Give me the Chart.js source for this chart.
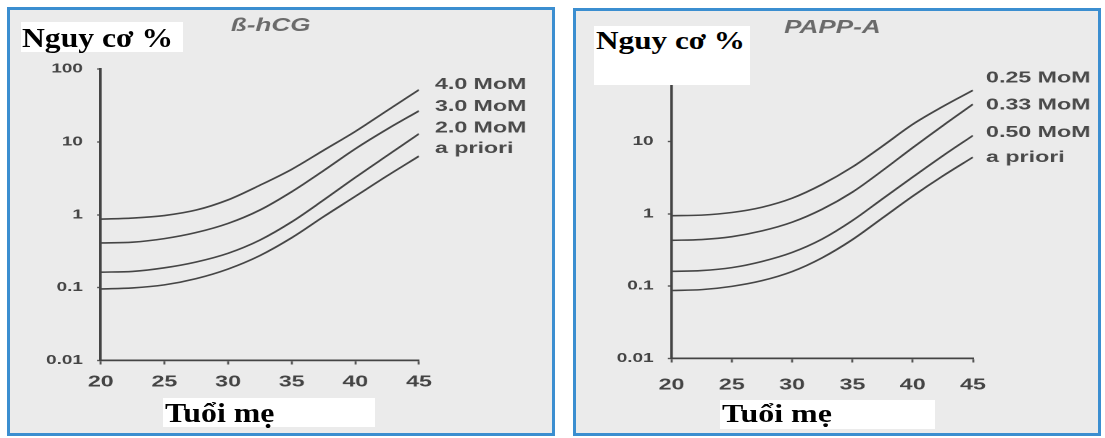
<!DOCTYPE html>
<html>
<head>
<meta charset="utf-8">
<title>Nguy cơ theo tuổi mẹ</title>
<script src="https://cdn.jsdelivr.net/npm/chart.js"></script>
<style>
  html, body { margin: 0; padding: 0; background: #fff; }
  body { width: 1105px; height: 438px; position: relative; overflow: hidden; }
  .panel { position: absolute; box-sizing: border-box; border: 3px solid #3b8ed0; background: #ebebeb; }
  .stretch { position: absolute; left: 0; top: 0; transform-origin: 0 0; }
  .note { position: absolute; background: #fff; }
  .note span { position: absolute; white-space: nowrap; font-family: "Liberation Serif", "Times New Roman", serif;
               font-weight: bold; line-height: 1; color: #000; transform-origin: 0 0; }
</style>
</head>
<body>
<div class="panel" style="left:7px;top:7px;width:548px;height:429px;">
  <div class="stretch" id="wrapHcg"><canvas id="hcgChart"></canvas></div>
</div>
<div class="panel" style="left:573px;top:8px;width:528px;height:428px;">
  <div class="stretch" id="wrapPapp"><canvas id="pappChart"></canvas></div>
</div>

<div class="note" style="left:21px;top:22px;width:162px;height:30px;">
  <span style="left:1px;top:1.5px;font-size:28px;transform:scaleX(1.13);">Nguy cơ %</span>
</div>
<div class="note" style="left:594px;top:26px;width:156px;height:59px;">
  <span style="left:2px;top:2.2px;font-size:26px;transform:scaleX(1.2);">Nguy cơ %</span>
</div>
<div class="note" style="left:163px;top:398px;width:212px;height:29px;">
  <span style="left:2px;top:2.4px;font-size:27px;transform:scaleX(1.18);">Tuổi mẹ</span>
</div>
<div class="note" style="left:720px;top:400px;width:215px;height:29px;">
  <span style="left:2px;top:1.2px;font-size:26px;transform:scaleX(1.23);">Tuổi mẹ</span>
</div>

<script>
// maternal age (x) and risk % (log y)
const ages = [20, 22.5, 25, 27.5, 30, 32.5, 35, 37.5, 40, 42.5, 45];
const ageTicks = [20, 25, 30, 35, 40, 45];
const riskTicks = [0.01, 0.1, 1, 10, 100];

// beta-hCG panel
const hcgNames = ['4.0 MoM', '3.0 MoM', '2.0 MoM', 'a priori'];
const hcg40 = [0.87, 0.90, 0.975, 1.16, 1.6, 2.54, 4.2, 7.65, 13.9, 26.9, 51.8];
const hcg30 = [0.41, 0.42, 0.47, 0.57, 0.76, 1.16, 2.07, 4.03, 8.04, 14.96, 26.6];
const hcg20 = [0.163, 0.167, 0.187, 0.225, 0.296, 0.449, 0.798, 1.59, 3.25, 6.49, 12.9];
const hcgPrior = [0.096, 0.099, 0.109, 0.133, 0.18, 0.275, 0.483, 0.94, 1.79, 3.42, 6.37];

// PAPP-A panel
const pappNames = ['0.25 MoM', '0.33 MoM', '0.50 MoM', 'a priori'];
const papp025 = [0.94, 0.957, 1.04, 1.23, 1.64, 2.55, 4.43, 8.63, 17.2, 30.3, 50.8];
const papp033 = [0.43, 0.44, 0.482, 0.579, 0.764, 1.156, 1.99, 3.96, 8.18, 16.5, 32.6];
const papp050 = [0.16, 0.164, 0.18, 0.219, 0.292, 0.448, 0.805, 1.61, 3.21, 6.32, 12.05];
const pappPrior = [0.087, 0.0895, 0.0993, 0.119, 0.159, 0.247, 0.439, 0.875, 1.75, 3.33, 6.05];

const family = '"Liberation Sans", Arial, sans-serif';

// title and the curve names at the right end of each line
const curveText = {
  id: 'curveText',
  afterDatasetsDraw(chart, args, opts) {
    const { ctx, chartArea, scales: { x, y } } = chart;
    ctx.save();
    ctx.textBaseline = 'middle';
    ctx.fillStyle = '#6a6a6a';
    ctx.textAlign = 'center';
    ctx.font = 'italic bold 18px ' + family;
    ctx.fillText(opts.title, (chartArea.left + chartArea.right) / 2 + opts.titleDx, opts.titleY);

    ctx.fillStyle = '#4a4a4a';
    ctx.textAlign = 'left';
    ctx.font = 'bold 16px ' + family;
    chart.data.datasets.forEach((ds, i) => {
      const last = ds.data[ds.data.length - 1];
      ctx.fillText(ds.label, x.getPixelForValue(last.x) + opts.gap, y.getPixelForValue(last.y) + opts.dy[i]);
    });
    ctx.restore();
  }
};

function makeChart(canvasId, wrapId, names, series, box, text) {
  // the original picture is stretched sideways, so draw narrow and stretch the canvas
  const cw = Math.round(box.innerW / 1.45);
  const s = box.innerW / cw;
  const wrap = document.getElementById(wrapId);
  wrap.style.transform = 'scaleX(' + s + ')';
  const canvas = document.getElementById(canvasId);
  canvas.width = cw;
  canvas.height = box.innerH;

  const yWidth = (box.left - box.x0) / s;
  const rightPad = cw - (box.right - box.x0) / s;
  const xHeight = box.innerH - (box.bottom - box.y0);

  const datasets = series.map((vals, i) => ({
    label: names[i],
    data: ages.map((a, j) => ({ x: a, y: vals[j] })),
    borderColor: '#454545',
    borderWidth: 1.6,
    pointRadius: 0,
    fill: false,
    cubicInterpolationMode: 'monotone'
  }));

  return new Chart(canvas, {
    type: 'line',
    data: { datasets: datasets },
    plugins: [curveText],
    options: {
      responsive: false,
      animation: false,
      devicePixelRatio: 2,
      events: [],
      layout: { padding: { left: 0, right: rightPad, top: box.top - box.y0, bottom: 0 } },
      plugins: {
        legend: { display: false },
        tooltip: { enabled: false },
        curveText: text
      },
      scales: {
        x: {
          type: 'linear',
          min: 20,
          max: 45,
          afterBuildTicks: (sc) => { sc.ticks = ageTicks.map(v => ({ value: v })); },
          afterFit: (sc) => { sc.height = xHeight; },
          grid: { drawOnChartArea: false, drawTicks: true, tickLength: 4, tickColor: '#555', tickWidth: 1.4 },
          border: { display: true, color: '#444', width: 1.8 },
          ticks: { color: '#444', font: { family: family, size: 16, weight: 'bold' }, padding: box.xPad, maxRotation: 0, autoSkip: false }
        },
        y: {
          type: 'logarithmic',
          min: 0.01,
          max: 100,
          afterBuildTicks: (sc) => { sc.ticks = riskTicks.map(v => ({ value: v })); },
          afterFit: (sc) => { sc.width = yWidth; },
          grid: { drawOnChartArea: false, drawTicks: true, tickLength: 2.5, tickColor: '#555', tickWidth: 1.4 },
          border: { display: true, color: '#444', width: 1.8 },
          ticks: { color: '#444', font: { family: family, size: 13, weight: 'bold' }, padding: 9.9, callback: (v) => String(v) }
        }
      }
    }
  });
}

makeChart('hcgChart', 'wrapHcg', hcgNames, [hcg40, hcg30, hcg20, hcgPrior],
  { x0: 10, y0: 10, innerW: 542, innerH: 423, left: 100.7, right: 419, top: 69, bottom: 360.5, xPad: 8 },
  { title: 'ß-hCG', titleDx: 7.5, titleY: 16, gap: 11, dy: [-5, -4.5, -5.5, -7.5] });

makeChart('pappChart', 'wrapPapp', pappNames, [papp025, papp033, papp050, pappPrior],
  { x0: 576, y0: 11, innerW: 522, innerH: 422, left: 671.5, right: 973, top: 69, bottom: 358.5, xPad: 13 },
  { title: 'PAPP-A', titleDx: 7, titleY: 17, gap: 9, dy: [-12, 1, -3, 0.5] });
</script>
</body>
</html>
